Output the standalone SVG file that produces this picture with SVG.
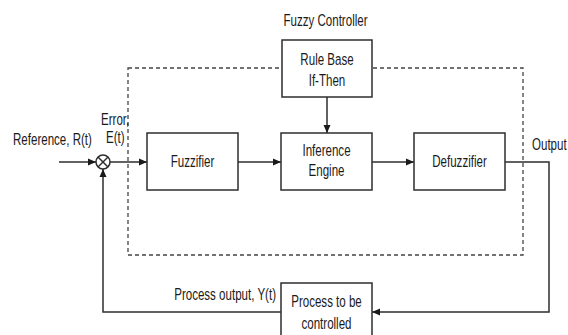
<svg xmlns="http://www.w3.org/2000/svg" width="568" height="335" viewBox="0 0 568 335">
<style>
text{font-family:"Liberation Sans",Arial,sans-serif;font-size:17px;fill:#1a1a1a}
.m{text-anchor:middle}
.e{text-anchor:end}
.box{fill:#fff;stroke:#2e2e2e;stroke-width:1.5}
.ln{fill:none;stroke:#2e2e2e;stroke-width:1.5}
.dash{fill:none;stroke:#444;stroke-width:1.3;stroke-dasharray:4 3}
</style>
<defs>
<marker id="ar" viewBox="0 0 8 8" refX="8" refY="4" markerWidth="8" markerHeight="8" markerUnits="userSpaceOnUse" orient="auto">
<path d="M0,0.5 L8,4 L0,7.5 Z" fill="#1a1a1a"/>
</marker>
</defs>
<rect width="568" height="335" fill="#fff"/>
<rect class="dash" x="128" y="68" width="395" height="187"/>
<text class="m" transform="translate(325.5,26) scale(0.68,1)">Fuzzy Controller</text>
<g id="connectors">
<line class="ln" x1="59" y1="162" x2="96" y2="162" marker-end="url(#ar)"/>
<line class="ln" x1="110" y1="162" x2="147" y2="162" marker-end="url(#ar)"/>
<line class="ln" x1="238" y1="162" x2="281" y2="162" marker-end="url(#ar)"/>
<line class="ln" x1="372" y1="162" x2="414" y2="162" marker-end="url(#ar)"/>
<line class="ln" x1="327" y1="97" x2="327" y2="133" marker-end="url(#ar)"/>
<polyline class="ln" points="505,162 549,162 549,312 372,312" marker-end="url(#ar)"/>
<polyline class="ln" points="281,312 103,312 103,169" marker-end="url(#ar)"/>
</g>
<g id="sum">
<circle cx="103" cy="162" r="7" class="box"/>
<line class="ln" x1="98" y1="157" x2="108" y2="167"/>
<line class="ln" x1="108" y1="157" x2="98" y2="167"/>
</g>
<g id="rulebase">
<rect class="box" x="282" y="40" width="90" height="57"/>
<text class="m" transform="translate(327,65) scale(0.68,1)">Rule Base</text>
<text class="m" transform="translate(327,86) scale(0.68,1)">If-Then</text>
</g>
<g id="fuzzifier">
<rect class="box" x="147" y="133" width="91" height="57"/>
<text class="m" transform="translate(192.5,167) scale(0.68,1)">Fuzzifier</text>
</g>
<g id="inference">
<rect class="box" x="281" y="133" width="91" height="57"/>
<text class="m" transform="translate(326.5,156) scale(0.68,1)">Inference</text>
<text class="m" transform="translate(326.5,176) scale(0.68,1)">Engine</text>
</g>
<g id="defuzzifier">
<rect class="box" x="414" y="133" width="91" height="57"/>
<text class="m" transform="translate(459.5,167) scale(0.68,1)">Defuzzifier</text>
</g>
<g id="process">
<rect class="box" x="281" y="283" width="91" height="60"/>
<text class="m" transform="translate(326.5,307) scale(0.68,1)">Process to be</text>
<text class="m" transform="translate(326.5,329) scale(0.68,1)">controlled</text>
</g>
<g id="labels">
<text transform="translate(13,145) scale(0.68,1)">Reference, R(t)</text>
<text transform="translate(101,125) scale(0.68,1)">Error,</text>
<text transform="translate(106,143) scale(0.68,1)">E(t)</text>
<text transform="translate(532,150) scale(0.68,1)">Output</text>
<text class="e" transform="translate(276,300) scale(0.68,1)">Process output, Y(t)</text>
</g>
</svg>
